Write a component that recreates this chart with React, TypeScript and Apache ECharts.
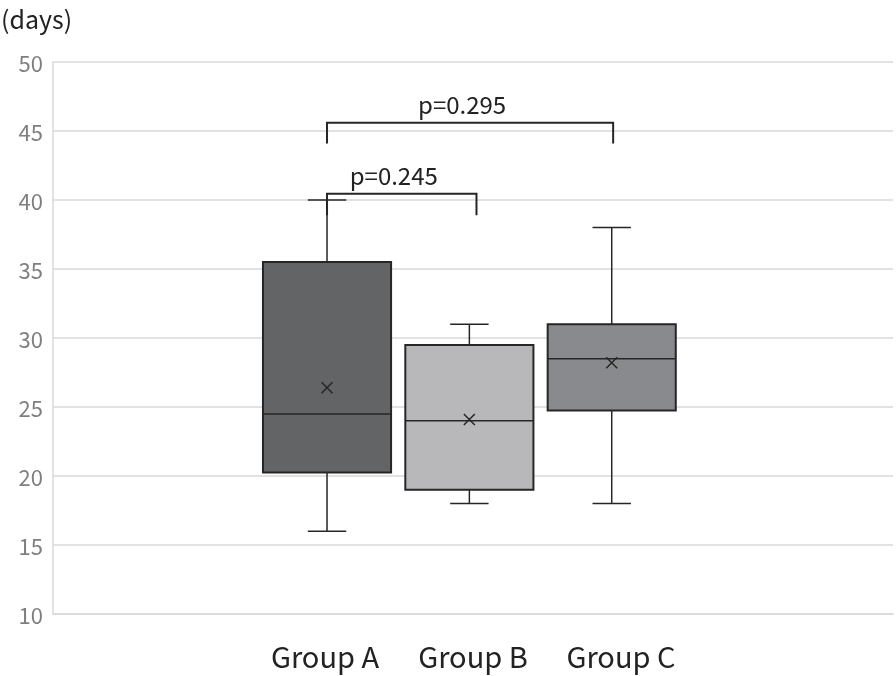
import React, { useEffect, useRef } from "react";
import * as echarts from "echarts";

const groups = ["Group A", "Group B", "Group C"];
const whiskerMin = [16, 18, 18];
const q1 = [20.25, 19, 24.75];
const medians = [24.5, 24, 28.5];
const q3 = [35.5, 29.5, 31];
const whiskerMax = [40, 31, 38];
const means = [26.4, 24.1, 28.2];
const boxColors = ["#636466", "#b8b8ba", "#898a8d"];
const categoryLabel = groups.join("   ");

const bracketFrom = [0, 0];
const bracketTo = [1.05, 2.01];
const bracketTop = [40.45, 45.6];
const bracketLegBottom = [38.9, 44.1];
const pLabels = ["p=0.245", "p=0.295"];

const yTicks = { min: 10, max: 50, interval: 5 };

const FONT = "'Noto Sans CJK JP', 'Noto Sans', sans-serif";

export default function App() {
  const ref = useRef<HTMLDivElement>(null);
  useEffect(() => {
    if (!ref.current) return;
    const chart = echarts.init(ref.current, null, { renderer: "svg" });
    const boxData = groups.map((_, i) => [i, whiskerMin[i], q1[i], medians[i], q3[i], whiskerMax[i], means[i]]);
    const bracketData = pLabels.map((_, i) => [bracketFrom[i], bracketTo[i], bracketTop[i], bracketLegBottom[i]]);
    const lineStyle = { stroke: "#262626", lineWidth: 1.5 };
    chart.setOption({
      animation: false,
      textStyle: { fontFamily: FONT },
      title: {
        text: "(days)",
        left: 1,
        top: 4,
        padding: 0,
        textStyle: { fontSize: 25, lineHeight: 28, fontWeight: "normal", color: "#222", fontFamily: FONT },
      },
      grid: { left: 53, right: 3, top: 62, bottom: 62, containLabel: false },
      xAxis: [
        {
          type: "category",
          data: [categoryLabel],
          axisLine: { show: true, onZero: false, lineStyle: { color: "#d9d9d9", width: 1.5 } },
          axisTick: { show: false },
          splitLine: { show: false },
          axisLabel: {
            margin: 26,
            formatter: () => groups.map((g) => "{g|" + g + "}").join(""),
            rich: {
              g: { width: 148, align: "center", fontSize: 29, color: "#222", fontFamily: FONT },
            },
          },
        },
        { type: "value", min: -1.925, max: 3.976, show: false, splitLine: { show: false } },
      ],
      yAxis: {
        type: "value",
        min: yTicks.min,
        max: yTicks.max,
        interval: yTicks.interval,
        axisLine: { show: true, onZero: false, lineStyle: { color: "#d9d9d9", width: 1.5 } },
        axisTick: { show: false },
        axisLabel: { fontSize: 22, color: "#7f7f7f", margin: 10, fontFamily: FONT },
        splitLine: { lineStyle: { color: "#d9d9d9", width: 1.5 } },
      },
      series: [
        {
          type: "custom",
          xAxisIndex: 1,
          data: boxData,
          renderItem: (params: any, api: any) => {
            const i = api.value(0);
            const [cx, yMin] = api.coord([i, api.value(1)]);
            const yQ1 = api.coord([i, api.value(2)])[1];
            const yMed = api.coord([i, api.value(3)])[1];
            const yQ3 = api.coord([i, api.value(4)])[1];
            const yMax = api.coord([i, api.value(5)])[1];
            const yMean = api.coord([i, api.value(6)])[1];
            const bw = api.size([0.9, 0])[0];
            const cw = api.size([0.27, 0])[0];
            const m = 5.5;
            return {
              type: "group",
              children: [
                { type: "line", shape: { x1: cx, y1: yMax, x2: cx, y2: yQ3 }, style: lineStyle },
                { type: "line", shape: { x1: cx, y1: yQ1, x2: cx, y2: yMin }, style: lineStyle },
                { type: "line", shape: { x1: cx - cw / 2, y1: yMax, x2: cx + cw / 2, y2: yMax }, style: lineStyle },
                { type: "line", shape: { x1: cx - cw / 2, y1: yMin, x2: cx + cw / 2, y2: yMin }, style: lineStyle },
                {
                  type: "rect",
                  shape: { x: cx - bw / 2, y: yQ3, width: bw, height: yQ1 - yQ3 },
                  style: { fill: boxColors[params.dataIndex], stroke: "#262626", lineWidth: 2 },
                },
                { type: "line", shape: { x1: cx - bw / 2, y1: yMed, x2: cx + bw / 2, y2: yMed }, style: lineStyle },
                { type: "line", shape: { x1: cx - m, y1: yMean - m, x2: cx + m, y2: yMean + m }, style: lineStyle },
                { type: "line", shape: { x1: cx - m, y1: yMean + m, x2: cx + m, y2: yMean - m }, style: lineStyle },
              ],
            };
          },
        },
        {
          type: "custom",
          xAxisIndex: 1,
          data: bracketData,
          renderItem: (params: any, api: any) => {
            const [x1, yTop] = api.coord([api.value(0), api.value(2)]);
            const x2 = api.coord([api.value(1), api.value(2)])[0];
            const yLeg = api.coord([api.value(0), api.value(3)])[1];
            return {
              type: "group",
              children: [
                {
                  type: "polyline",
                  shape: { points: [[x1, yLeg], [x1, yTop], [x2, yTop], [x2, yLeg]] },
                  style: { stroke: "#262626", lineWidth: 2, fill: null },
                },
                {
                  type: "text",
                  x: (x1 + x2) / 2 - 8,
                  y: yTop - 19,
                  style: {
                    text: pLabels[params.dataIndex],
                    fontSize: 24,
                    fontFamily: FONT,
                    fill: "#222",
                    align: "center",
                    verticalAlign: "middle",
                  },
                },
              ],
            };
          },
        },
      ],
    });
    return () => chart.dispose();
  }, []);
  return <div ref={ref} style={{ position: "fixed", left: 0, top: 0, width: 896, height: 676 }} />;
}
